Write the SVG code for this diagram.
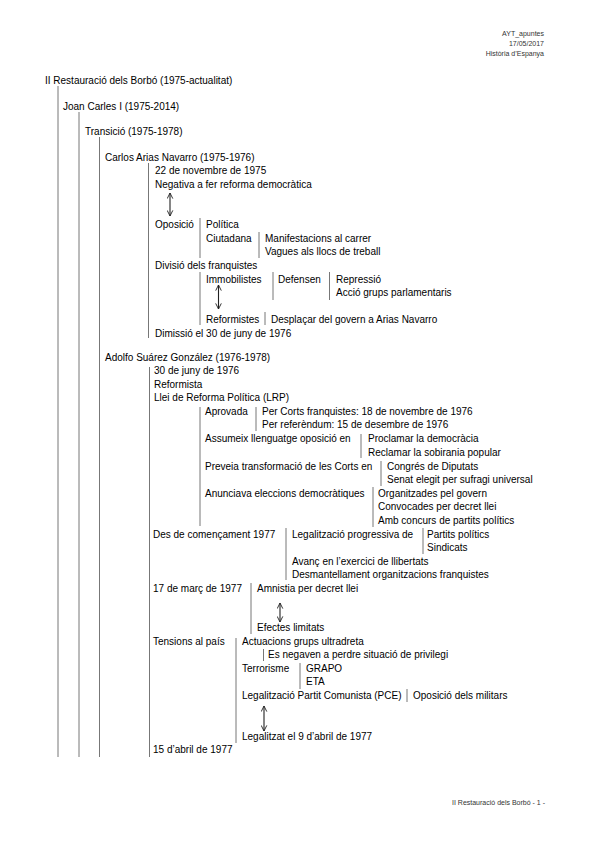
<svg xmlns="http://www.w3.org/2000/svg" width="599" height="848" viewBox="0 0 599 848">
<style>
text{font-family:"Liberation Sans",Arial,sans-serif;font-size:10px;fill:#000}
.s{font-size:7px;fill:#333}
.b{stroke:#777;stroke-width:1;fill:none}
.a{stroke:#222;stroke-width:1.1;fill:none;marker-start:url(#h);marker-end:url(#h)}
</style>
<defs>
<marker id="h" viewBox="0 0 10 10" refX="9" refY="5" markerWidth="7" markerHeight="7" orient="auto-start-reverse" markerUnits="userSpaceOnUse">
<path d="M1 1 L9 5 L1 9" fill="none" stroke="#222" stroke-width="1.3"/>
</marker>
</defs>
<rect width="599" height="848" fill="#fff"/>
<g id="header">
<text class="s" x="544" y="35.5" text-anchor="end">AYT_apuntes</text>
<text class="s" x="544" y="45.5" text-anchor="end">17/05/2017</text>
<text class="s" x="544" y="55.5" text-anchor="end">Història d’Espanya</text>
</g>
<g id="connectors">
<line class="b" x1="58" y1="86" x2="58" y2="757"/>
<line class="b" x1="79" y1="112" x2="79" y2="757"/>
<line class="b" x1="99.5" y1="137" x2="99.5" y2="757"/>
<line class="b" x1="148.5" y1="163" x2="148.5" y2="338"/>
<line class="b" x1="200" y1="218" x2="200" y2="258"/>
<line class="b" x1="259" y1="232" x2="259" y2="258"/>
<line class="b" x1="200" y1="272" x2="200" y2="325"/>
<line class="b" x1="273" y1="272" x2="273" y2="300"/>
<line class="b" x1="329.5" y1="272" x2="329.5" y2="300"/>
<line class="b" x1="265" y1="312" x2="265" y2="325"/>
<line class="b" x1="149.5" y1="367" x2="149.5" y2="757"/>
<line class="b" x1="200" y1="407" x2="200" y2="526"/>
<line class="b" x1="256" y1="407" x2="256" y2="431"/>
<line class="b" x1="361" y1="434" x2="361" y2="458"/>
<line class="b" x1="381" y1="461" x2="381" y2="486"/>
<line class="b" x1="373" y1="487" x2="373" y2="527"/>
<line class="b" x1="286" y1="528" x2="286" y2="580"/>
<line class="b" x1="423" y1="528" x2="423" y2="554"/>
<line class="b" x1="251" y1="583" x2="251" y2="634"/>
<line class="b" x1="236" y1="638" x2="236" y2="743"/>
<line class="b" x1="263.5" y1="649" x2="263.5" y2="661"/>
<line class="b" x1="300" y1="663" x2="300" y2="689"/>
<line class="b" x1="407" y1="689" x2="407" y2="702"/>
<line class="a" x1="170" y1="193" x2="170" y2="216"/>
<line class="a" x1="218.5" y1="285" x2="218.5" y2="309"/>
<line class="a" x1="280" y1="603" x2="280" y2="622"/>
<line class="a" x1="264" y1="706" x2="264" y2="731"/>
</g>
<g id="n-restauracio"><text x="45" y="83.5">II Restauració dels Borbó (1975-actualitat)</text></g>
<g id="n-joancarles"><text x="63" y="109.5">Joan Carles I (1975-2014)</text></g>
<g id="n-transicio"><text x="85" y="134.5">Transició (1975-1978)</text></g>
<g id="n-arias"><text x="105" y="160.5">Carlos Arias Navarro (1975-1976)</text></g>
<g id="n-arias-items">
<text x="155" y="174">22 de novembre de 1975</text>
<text x="155" y="187.5">Negativa a fer reforma democràtica</text>
<text x="155" y="228">Oposició</text>
<text x="206" y="228">Política</text>
<text x="206" y="241.5">Ciutadana</text>
<text x="265" y="241.5">Manifestacions al carrer</text>
<text x="265" y="255">Vagues als llocs de treball</text>
<text x="155" y="268.5">Divisió dels franquistes</text>
<text x="206" y="282.5">Immobilistes</text>
<text x="278" y="282.5">Defensen</text>
<text x="336" y="282.5">Repressió</text>
<text x="336" y="296">Acció grups parlamentaris</text>
<text x="206" y="322.5">Reformistes</text>
<text x="271" y="322.5">Desplaçar del govern a Arias Navarro</text>
<text x="155" y="336.5">Dimissió el 30 de juny de 1976</text>
</g>
<g id="n-suarez"><text x="105" y="360.5">Adolfo Suárez González (1976-1978)</text></g>
<g id="n-suarez-items">
<text x="154" y="374">30 de juny de 1976</text>
<text x="154" y="387.5">Reformista</text>
<text x="154" y="401">Llei de Reforma Política (LRP)</text>
<text x="205" y="414.5">Aprovada</text>
<text x="262" y="414.5">Per Corts franquistes: 18 de novembre de 1976</text>
<text x="262" y="428">Per referèndum: 15 de desembre de 1976</text>
<text x="205" y="442">Assumeix llenguatge oposició en</text>
<text x="368" y="442">Proclamar la democràcia</text>
<text x="368" y="455.5">Reclamar la sobirania popular</text>
<text x="205" y="469.5">Preveia transformació de les Corts en</text>
<text x="387" y="469.5">Congrés de Diputats</text>
<text x="387" y="483">Senat elegit per sufragi universal</text>
<text x="205" y="496.5">Anunciava eleccions democràtiques</text>
<text x="378" y="496.5">Organitzades pel govern</text>
<text x="378" y="510">Convocades per decret llei</text>
<text x="378" y="523.5">Amb concurs de partits polítics</text>
<text x="153" y="537.5">Des de començament 1977</text>
<text x="292" y="537.5">Legalització progressiva de</text>
<text x="427" y="537.5">Partits polítics</text>
<text x="427" y="551">Sindicats</text>
<text x="292" y="564.5">Avanç en l’exercici de llibertats</text>
<text x="292" y="578">Desmantellament organitzacions franquistes</text>
<text x="153" y="591.5">17 de març de 1977</text>
<text x="257" y="591.5">Amnistia per decret llei</text>
<text x="257" y="631">Efectes limitats</text>
<text x="153" y="644.5">Tensions al país</text>
<text x="242" y="644.5">Actuacions grups ultradreta</text>
<text x="268" y="658">Es negaven a perdre situació de privilegi</text>
<text x="242" y="671.5">Terrorisme</text>
<text x="306" y="671.5">GRAPO</text>
<text x="306" y="685">ETA</text>
<text x="242" y="698.5">Legalització Partit Comunista (PCE)</text>
<text x="413" y="698.5">Oposició dels militars</text>
<text x="242" y="739.5">Legalitzat el 9 d’abril de 1977</text>
<text x="153" y="752.5">15 d’abril de 1977</text>
</g>
<g id="footer"><text class="s" x="545" y="805" text-anchor="end">II Restauració dels Borbó - 1 -</text></g>
</svg>
